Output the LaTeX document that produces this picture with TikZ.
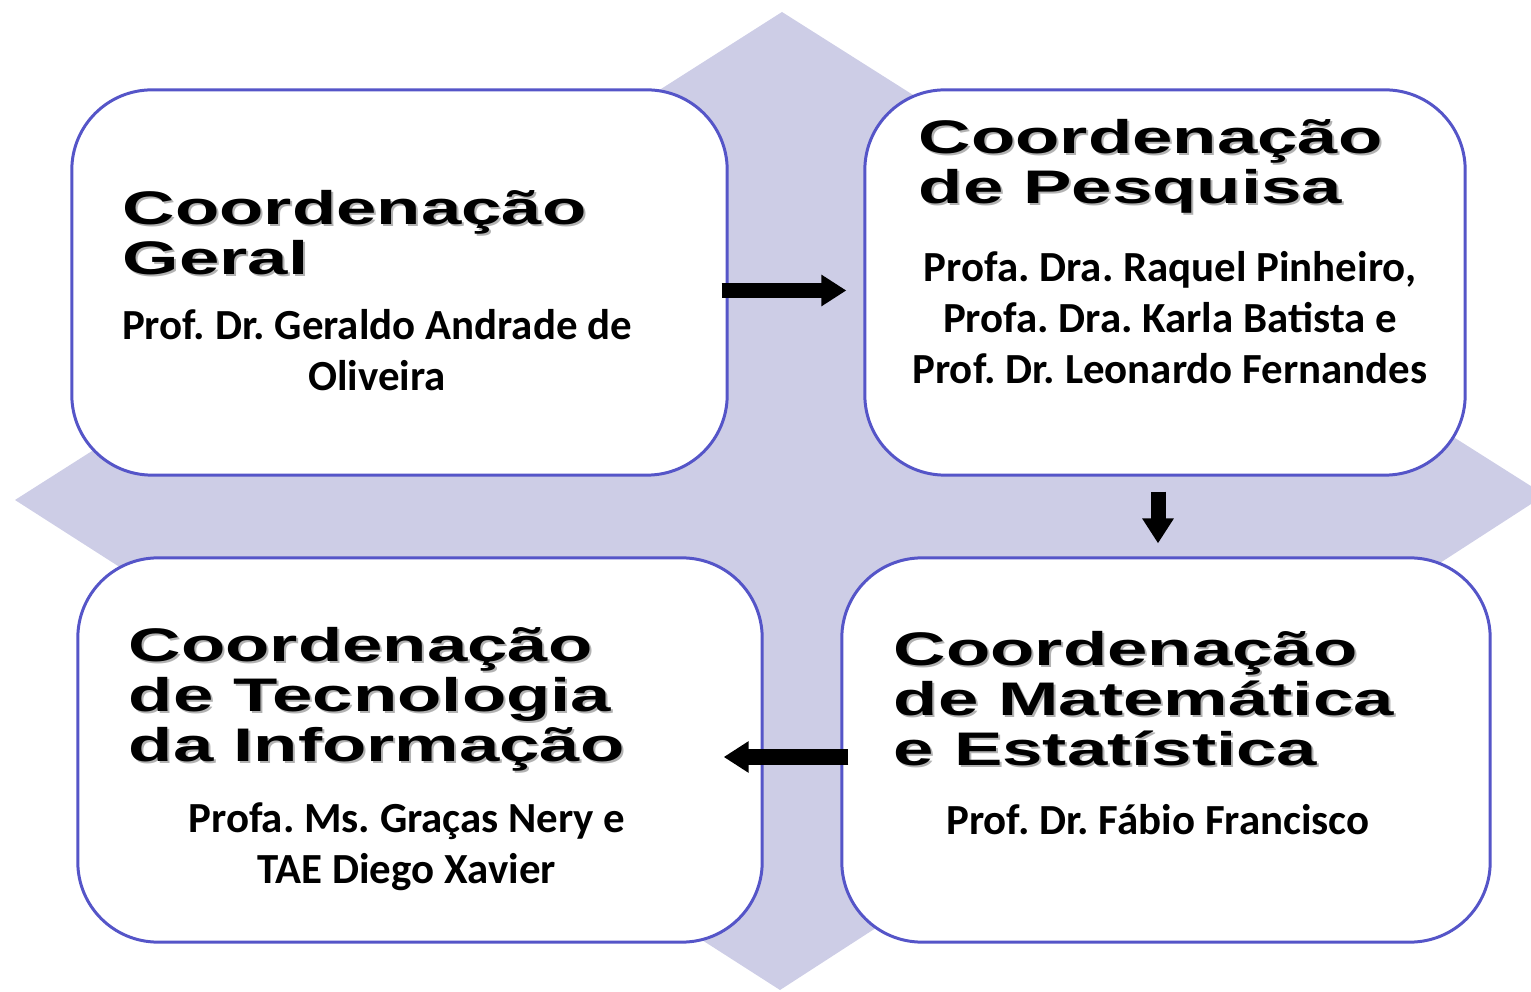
\documentclass[tikz,border=0pt]{standalone}
\usepackage{fontspec}
\usetikzlibrary{arrows.meta}
\newfontfamily\titlefont[FakeStretch=1.54]{Liberation Sans}
\newfontfamily\namefont{Carlito}
\definecolor{losango}{RGB}{205,205,230}
\definecolor{borda}{RGB}{85,85,200}
\tikzset{
  caixa/.style={draw=borda, line width=0.85pt, fill=white, rounded corners=0.8cm, inner sep=0pt},
  titulo/.style={anchor=west, align=left, inner sep=0pt,
    font=\titlefont\bfseries\fontsize{13.4}{14.2}\selectfont},
  sombra/.style={titulo, text=black!30},
  nomes/.style={align=center, inner sep=0pt,
    font=\namefont\bfseries\frenchspacing\fontsize{12.2}{14.5}\selectfont},
  seta/.style={line width=0.15cm, -{Triangle[width=0.3cm,length=0.25cm]}}
}
\begin{document}
\begin{tikzpicture}[x=0.01cm, y=-0.01cm]
	\useasboundingbox (0,0) rectangle (1531,992);
	\begin{scope}
		\clip (0,0) rectangle (1531,992);
		\fill[losango] (782,12) -- (1545,495) -- (780,990) -- (15,500) -- cycle;
	\end{scope}
	
	% caixas
	\node[caixa, minimum width=6.55cm, minimum height=3.85cm] (geral) at (399.5,282.5) {};
	\node[caixa, minimum width=6.00cm, minimum height=3.85cm] (pesq) at (1165,282.5) {};
	\node[caixa, minimum width=6.84cm, minimum height=3.84cm] (tec) at (420,750) {};
	\node[caixa, minimum width=6.48cm, minimum height=3.84cm] (mat) at (1166,750) {};
	
	% setas
	\draw[seta] ([shift={(-7,8)}]geral.east) -- ([shift={(-17,8)}]pesq.west);
	\draw[seta] ([shift={(-7,15)}]pesq.south) -- ([shift={(-8,-13)}]mat.north);
	\draw[seta] ([shift={(8,7)}]mat.west) -- ([shift={(-40,7)}]tec.east);
	
	% titulos
	\node[sombra] (g0) at (124,235) {Coordenação\\Geral};
	\node[titulo] (g1) at (122,233) {Coordenação\\Geral};
	\node[sombra] (p0) at (920,168) {Coordenação\\de Pesquisa};
	\node[titulo] (p1) at (918,166) {Coordenação\\de Pesquisa};
	\node[sombra] (t0) at (130,701) {Coordenação\\de Tecnologia\\da Informação};
	\node[titulo] (t1) at (128,699) {Coordenação\\de Tecnologia\\da Informação};
	\node[sombra] (m0) at (895,701) {Coordenação\\de Matemática\\e Estatística};
	\node[titulo] (m1) at (893,699) {Coordenação\\de Matemática\\e Estatística};
	
	% nomes
	\node[nomes] (gn) at (377,350) {Prof. Dr. Geraldo Andrade de\\Oliveira};
	\node[nomes] (pn) at (1170,318) {Profa. Dra. Raquel Pinheiro,\\Profa. Dra. Karla Batista e\\Prof. Dr. Leonardo Fernandes};
	\node[nomes] (tn) at (407,847) {Profa. Ms. Graças Nery e\\TAE Diego Xavier};
	\node[nomes] (mn) at (1158,820) {Prof. Dr. Fábio Francisco};
\end{tikzpicture}
\end{document}
